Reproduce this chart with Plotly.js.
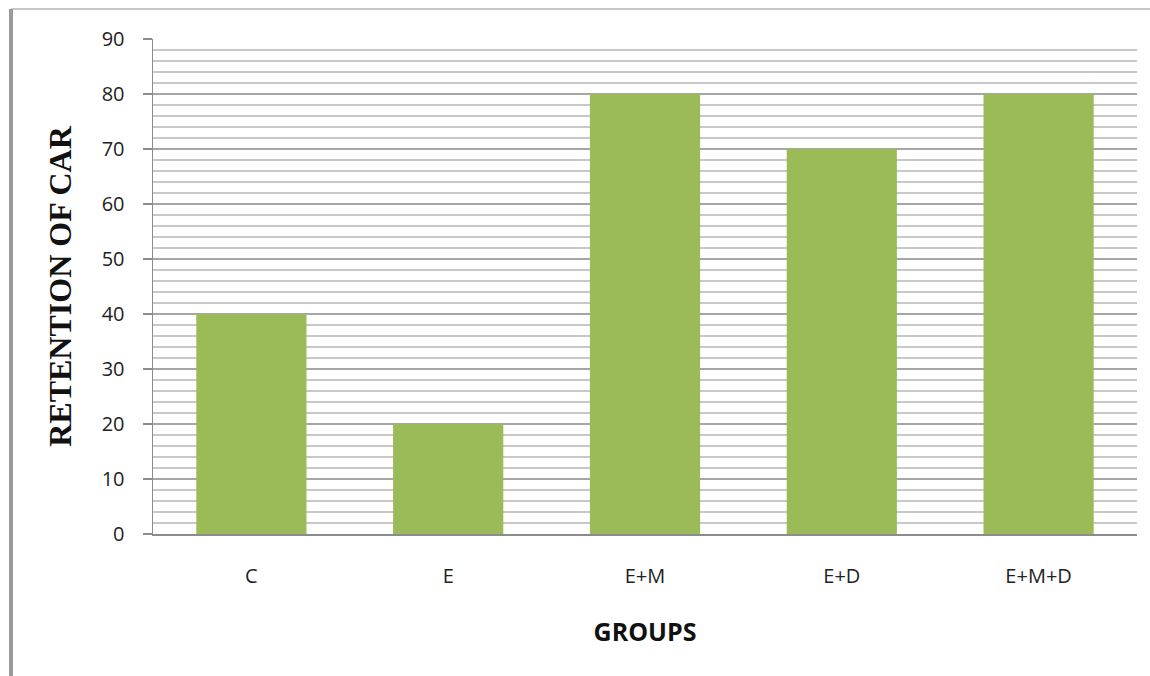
<!DOCTYPE html>
<html>
<head>
<meta charset="utf-8">
<script src="https://cdn.plot.ly/plotly-3.0.1.min.js"></script>
<style>
html,body{margin:0;padding:0;background:#fff;}
#chart{width:1150px;height:676px;}
</style>
</head>
<body>
<div id="chart"></div>
<script>
var groups = ["C", "E", "E+M", "E+D", "E+M+D"];
var retention = [40, 20, 80, 70, 80];
var yTicks = [0, 10, 20, 30, 40, 50, 60, 70, 80, 90];

var trace = {
  type: "bar",
  x: groups,
  y: retention,
  marker: {color: "#9BBB59", line: {width: 0}},
  hoverinfo: "x+y"
};

var layout = {
  width: 1150,
  height: 676,
  margin: {l: 153, r: 13, t: 39, b: 142},
  paper_bgcolor: "#ffffff",
  plot_bgcolor: "#ffffff",
  bargap: 0.44,
  showlegend: false,
  font: {family: "Open Sans, sans-serif", color: "#222"},
  xaxis: {
    type: "category",
    showline: true,
    linecolor: "#8c8c8c",
    linewidth: 1.5,
    ticks: "",
    showgrid: false,
    tickfont: {family: "Open Sans, sans-serif", size: 20, color: "#222"},
    ticklabelstandoff: 23,
    title: {
      text: "GROUPS",
      font: {family: "Open Sans, sans-serif", size: 25, color: "#111", weight: "bold"},
      standoff: 36
    }
  },
  yaxis: {
    range: [0, 90],
    tickvals: yTicks,
    ticktext: yTicks.map(String),
    showline: true,
    linecolor: "#8c8c8c",
    linewidth: 1.5,
    ticks: "outside",
    ticklen: 9,
    tickcolor: "#8c8c8c",
    tickwidth: 1.5,
    ticklabelstandoff: 14,
    showgrid: true,
    gridcolor: "#a6a6a6",
    gridwidth: 1.5,
    zeroline: false,
    minor: {dtick: 2, showgrid: true, gridcolor: "#c8c8c8", gridwidth: 1.2, ticks: ""},
    tickfont: {family: "Open Sans, sans-serif", size: 20, color: "#222"},
    title: {
      text: "RETENTION OF CAR",
      font: {family: "Liberation Serif, Times New Roman, serif", size: 32, color: "#111", weight: "bold"},
      standoff: 20
    }
  },
  shapes: [
    {type: "line", xref: "paper", yref: "paper",
     x0: -0.1443, x1: 1.02, y0: 1.0606, y1: 1.0606,
     line: {color: "#b4b4b4", width: 1.5}},
    {type: "line", xref: "paper", yref: "paper",
     x0: -0.1443, x1: -0.1443, y0: 1.0606, y1: -0.3,
     line: {color: "#9a9a9a", width: 4}}
  ]
};

Plotly.newPlot("chart", [trace], layout, {displayModeBar: false, staticPlot: true});
</script>
</body>
</html>
